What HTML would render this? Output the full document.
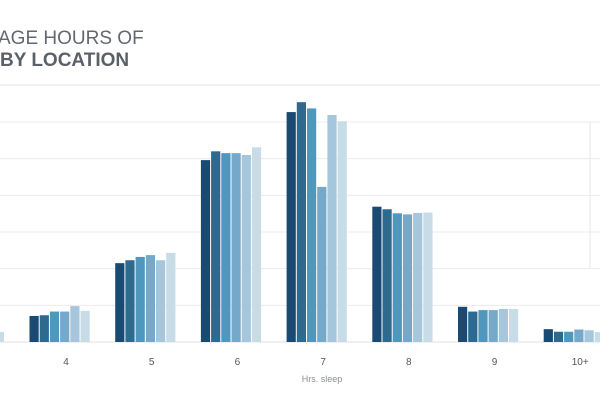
<!DOCTYPE html>
<html><head><meta charset="utf-8"><style>
body{margin:0;background:#fff;font-family:"Liberation Sans",sans-serif;}
svg{display:block}
</style></head><body>
<svg id="c" width="600" height="400">
<text x="-2" y="44" font-size="19" fill="#626970">AGE HOURS OF</text>
<text x="0" y="66" font-size="19" font-weight="bold" fill="#5b6168">BY LOCATION</text>
<line x1="0" y1="85" x2="600" y2="85" stroke="#e6e6e6"/>
<line x1="590" y1="122" x2="590" y2="268" stroke="#e6e6e6"/>
<g id="grid"></g><g id="bars"></g><g id="labels"></g>
<text x="322" y="382" font-size="9" fill="#8a8f94" text-anchor="middle">Hrs. sleep</text>
</svg>
<script>
const categories=["3","4","5","6","7","8","9","10+"];
const s1=[2.5,7.1,21.5,49.6,62.7,36.9,9.6,3.5];
const s2=[2.6,7.3,22.3,52,65.4,36.2,8.3,2.8];
const s3=[2.7,8.3,23.2,51.5,63.7,35.1,8.7,2.8];
const s4=[2.6,8.3,23.7,51.5,42.3,34.8,8.7,3.4];
const s5=[2.8,9.8,22.3,51,61.9,35.2,9,3.2];
const s6=[2.7,8.5,24.3,53.1,60.2,35.3,9,2.7];
const gridTicks=[0,10,20,30,40,50,60];
const series=[s1,s2,s3,s4,s5,s6];
const colors=["#1a4a72","#2e6a8e","#4f97bd","#76a9c9","#a6c6db","#c7dce7"];
const NS="http://www.w3.org/2000/svg";
const base=342,unit=3.667;
function y(v){return base-v*unit;}
function xc(i){return -25.7+i*85.7;}
const grid=document.getElementById('grid'),bars=document.getElementById('bars'),labels=document.getElementById('labels');
gridTicks.forEach(t=>{
 const l=document.createElementNS(NS,'line');
 l.setAttribute('x1',0);l.setAttribute('x2',600);l.setAttribute('y1',y(t));l.setAttribute('y2',y(t));
 l.setAttribute('stroke',t===0?'#e0e0e0':'#ececec');
 
 
 grid.appendChild(l);
});
categories.forEach((c,i)=>{
 series.forEach((s,k)=>{
  const r=document.createElementNS(NS,'rect');
  const x=xc(i)-30.5+k*10.2;
  r.setAttribute('x',x);r.setAttribute('width',9.2);
  r.setAttribute('y',y(s[i]));r.setAttribute('height',s[i]*unit);
  r.setAttribute('fill',colors[k]);
  
  
  bars.appendChild(r);
 });
 const t=document.createElementNS(NS,'text');
 t.setAttribute('x',xc(i)+6);t.setAttribute('y',365);
 t.setAttribute('font-size','10');t.setAttribute('fill','#555');t.setAttribute('text-anchor','middle');
 
 
 t.textContent=c;labels.appendChild(t);
});
</script>
</body></html>
